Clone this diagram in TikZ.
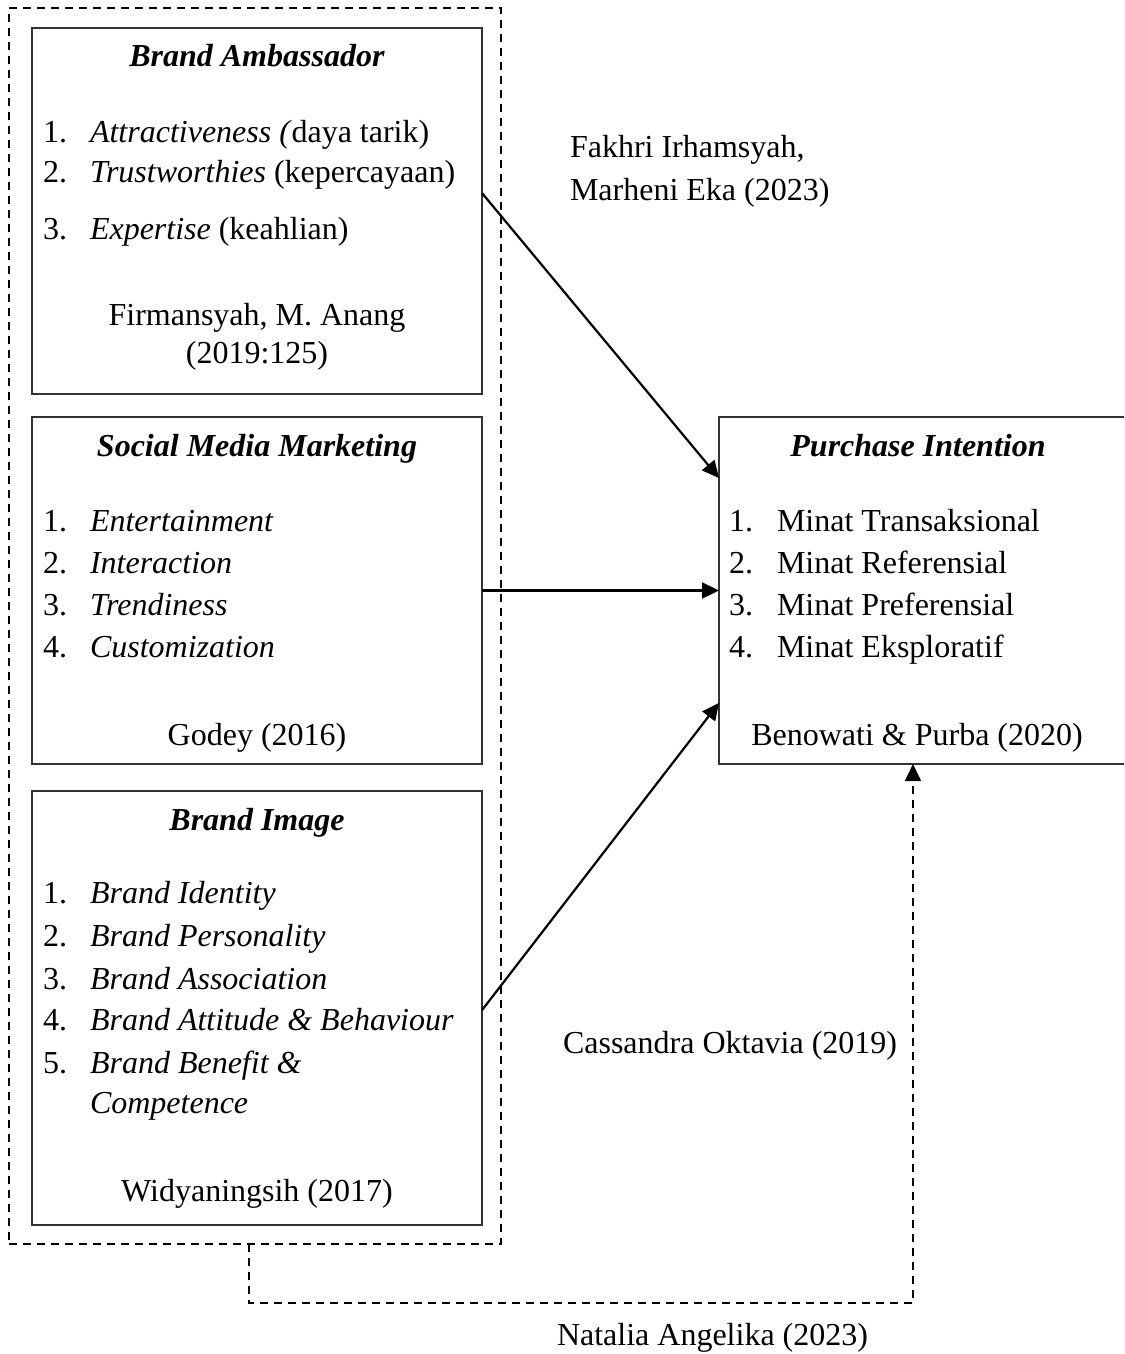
\documentclass[tikz,border=0pt]{standalone}
\usepackage{fontspec}
\setmainfont{Liberation Serif}
\usetikzlibrary{arrows.meta,calc}
\begin{document}
\begin{tikzpicture}[x=0.5pt,y=-0.5pt,
  box/.style={draw=black!80, line width=0.85pt, rectangle, inner sep=0pt, outer sep=0pt, anchor=north west},
  grpbox/.style={draw=black, line width=0.8pt, dash pattern=on 4pt off 3pt, rectangle, inner sep=0pt, outer sep=0pt, anchor=north west},
  tt/.style={inner sep=0pt, outer sep=0pt, font=\fontsize{16pt}{21pt}\selectfont},
  tc/.style={tt, anchor=base},
  tl/.style={tt, anchor=base west},
  arr/.style={line width=1.1pt, -{Triangle[length=8.5pt,width=8pt]}},
  darr/.style={line width=0.8pt, dash pattern=on 4pt off 3pt, -{Triangle[length=8.5pt,width=8pt]}}
]
\useasboundingbox (0,0) rectangle (1124,1354);
\clip (0,0) rectangle (1124,1354);

% group and boxes
\node[grpbox, minimum width=246pt, minimum height=618pt] (grp) at (9,8) {};
\node[box, minimum width=225pt, minimum height=183pt] (ba) at (32,28) {};
\node[box, minimum width=225pt, minimum height=173.5pt] (sm) at (32,417) {};
\node[box, minimum width=225pt, minimum height=217pt] (bi) at (32,791) {};
\node[box, minimum width=205.5pt, minimum height=173.5pt] (pi) at (719,417) {};

% Brand Ambassador
\node[tc] (baT) at (257,67) {\textbf{\textit{Brand Ambassador}}};
\node[tl] (ba1n) at (43,142) {1.};
\node[tl] (ba1) at (90,142) {\textit{Attractiveness (}daya tarik)};
\node[tl] (ba2n) at (43,183) {2.};
\node[tl] (ba2) at (90,183) {\textit{Trustworthies} (kepercayaan)};
\node[tl] (ba3n) at (43,239) {3.};
\node[tl] (ba3) at (90,239) {\textit{Expertise} (keahlian)};
\node[tc] (baS1) at (257,325) {Firmansyah, M. Anang};
\node[tc] (baS2) at (257,363) {(2019:125)};

% Social Media Marketing
\node[tc] (smT) at (257,456) {\textbf{\textit{Social Media Marketing}}};
\node[tl] (sm1n) at (43,531) {1.};
\node[tl] (sm1) at (90,531) {\textit{Entertainment}};
\node[tl] (sm2n) at (43,573) {2.};
\node[tl] (sm2) at (90,573) {\textit{Interaction}};
\node[tl] (sm3n) at (43,615) {3.};
\node[tl] (sm3) at (90,615) {\textit{Trendiness}};
\node[tl] (sm4n) at (43,657) {4.};
\node[tl] (sm4) at (90,657) {\textit{Customization}};
\node[tc] (smS) at (257,745) {Godey (2016)};

% Brand Image
\node[tc] (biT) at (257,830) {\textbf{\textit{Brand Image}}};
\node[tl] (bi1n) at (43,903) {1.};
\node[tl] (bi1) at (90,903) {\textit{Brand Identity}};
\node[tl] (bi2n) at (43,946) {2.};
\node[tl] (bi2) at (90,946) {\textit{Brand Personality}};
\node[tl] (bi3n) at (43,989) {3.};
\node[tl] (bi3) at (90,989) {\textit{Brand Association}};
\node[tl] (bi4n) at (43,1030) {4.};
\node[tl] (bi4) at (90,1030) {\textit{Brand Attitude \& Behaviour}};
\node[tl] (bi5n) at (43,1073) {5.};
\node[tl] (bi5) at (90,1073) {\textit{Brand Benefit \&}};
\node[tl] (bi5b) at (90,1113) {\textit{Competence}};
\node[tc] (biS) at (257,1201) {Widyaningsih (2017)};

% Purchase Intention
\node[tc] (piT) at (918,456) {\textbf{\textit{Purchase Intention}}};
\node[tl] (pi1n) at (729,531) {1.};
\node[tl] (pi1) at (777,531) {Minat Transaksional};
\node[tl] (pi2n) at (729,573) {2.};
\node[tl] (pi2) at (777,573) {Minat Referensial};
\node[tl] (pi3n) at (729,615) {3.};
\node[tl] (pi3) at (777,615) {Minat Preferensial};
\node[tl] (pi4n) at (729,657) {4.};
\node[tl] (pi4) at (777,657) {Minat Eksploratif};
\node[tc] (piS) at (917,745) {Benowati \& Purba (2020)};

% connector labels
\node[tl] (lab1a) at (570,157) {Fakhri Irhamsyah,};
\node[tl] (lab1b) at (570,200) {Marheni Eka (2023)};
\node[tl] (lab3) at (563,1053) {Cassandra Oktavia (2019)};
\node[tl] (lab4) at (557,1345) {Natalia Angelika (2023)};

% connectors
\coordinate (baOut) at ($(ba.north east)!0.451!(ba.south east)$);
\coordinate (piIn1) at ($(pi.north west)!0.176!(pi.south west)$);
\coordinate (biOut) at ($(bi.north east)!0.505!(bi.south east)$);
\coordinate (piIn3) at ($(pi.north west)!0.824!(pi.south west)$);
\coordinate (grpOut) at ($(grp.south west)!0.488!(grp.south east)$);
\coordinate (piIn4) at ($(pi.south west)!0.472!(pi.south east)$);

\draw[arr] (baOut) -- (piIn1);
\draw[arr] (sm.east) -- (sm.east -| pi.west);
\draw[arr] (biOut) -- (piIn3);
\draw[darr] (grpOut) -- ++(0,59) -| (piIn4);
\end{tikzpicture}
\end{document}
